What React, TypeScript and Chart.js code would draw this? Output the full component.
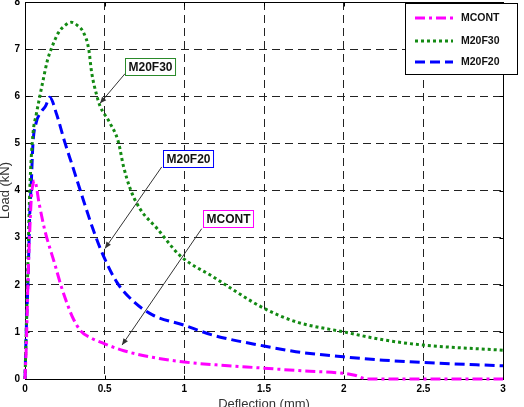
import React, { useEffect, useRef } from 'react';
import { Chart, registerables } from 'chart.js';

Chart.register(...registerables);

// ---- data ----
const seriesNames = ['MCONT', 'M20F30', 'M20F20'];
const seriesColors = ['#ff00ff', '#138a13', '#0000ff'];
const seriesDashes = [[10, 4, 3, 4], [3, 3], [10, 5]];

const mcontX = [0, 0.008, 0.019, 0.03, 0.04, 0.06, 0.09, 0.124, 0.186, 0.228, 0.27, 0.3, 0.35, 0.42, 0.49, 0.62, 0.8, 1.0, 1.2, 1.5, 1.75, 2.0, 2.07, 2.15, 2.5, 3.0];
const mcontY = [0, 0.68, 2.1, 3.16, 3.86, 4.21, 3.7, 3.16, 2.45, 1.96, 1.55, 1.3, 1.02, 0.86, 0.76, 0.6, 0.46, 0.36, 0.3, 0.23, 0.17, 0.12, 0.08, 0, 0, 0];

const m20f30X = [0, 0.015, 0.03, 0.05, 0.07, 0.092, 0.113, 0.14, 0.17, 0.21, 0.25, 0.29, 0.33, 0.366, 0.4, 0.418, 0.45, 0.47, 0.53, 0.586, 0.617, 0.66, 0.72, 0.83, 0.973, 1.18, 1.5, 1.705, 2.0, 2.25, 2.5, 3.0];
const m20f30Y = [0, 2.0, 4.0, 5.2, 5.6, 5.98, 6.33, 6.75, 7.05, 7.35, 7.5, 7.57, 7.5, 7.36, 7.0, 6.51, 6.02, 5.8, 5.45, 5.03, 4.53, 4.04, 3.62, 3.19, 2.62, 2.17, 1.5, 1.21, 1.0, 0.83, 0.72, 0.61];

const m20f20X = [0, 0.008, 0.019, 0.03, 0.04, 0.05, 0.071, 0.1, 0.13, 0.155, 0.2, 0.25, 0.3, 0.366, 0.43, 0.49, 0.575, 0.68, 0.8, 1.0, 1.18, 1.5, 1.7, 2.0, 2.25, 2.5, 3.0];
const m20f20Y = [0, 1.04, 2.1, 3.5, 4.2, 5.0, 5.45, 5.66, 5.8, 5.98, 5.6, 5.02, 4.5, 3.8, 3.15, 2.63, 2.06, 1.65, 1.36, 1.14, 0.93, 0.7, 0.58, 0.47, 0.4, 0.35, 0.28];

const xTickLabels = ['0', '0.5', '1', '1.5', '2', '2.5', '3'];
const yTickLabels = ['0', '1', '2', '3', '4', '5', '6', '7', '8'];
const xTitle = 'Deflection (mm)';
const yTitle = 'Load (kN)';

// annotations (data coordinates)
const annLabels = ['M20F30', 'M20F20', 'MCONT'];
const annColors = ['#2a8a2a', '#0000ff', '#ff00ff'];
const annBoxX = [0.784, 1.023, 1.271];
const annBoxY = [6.63, 4.68, 3.4];
const annTailX = [0.628, 0.858, 1.109];
const annTailY = [6.48, 4.5, 3.19];
const annTipX = [0.471, 0.502, 0.609];
const annTipY = [5.85, 2.77, 0.72];

const FONT = '"Liberation Sans", Arial, sans-serif';

const toPts = (xs: number[], ys: number[]) => xs.map((x, i) => ({ x, y: ys[i] }));

const plotPlugin = {
  id: 'matlabStyle',
  beforeDatasetsDraw(chart: any) {
    const { ctx, chartArea: a, scales } = chart;
    ctx.save();
    ctx.strokeStyle = '#000';
    ctx.lineWidth = 1;
    ctx.setLineDash([]);
    const L = Math.round(a.left) + 0.5, R = Math.round(a.right) + 0.5;
    const T = Math.round(a.top) + 0.5, B = Math.round(a.bottom) + 0.5;
    ctx.strokeRect(L, T, R - L, B - T);
    ctx.beginPath();
    scales.x.ticks.forEach((t: any) => {
      const px = Math.round(scales.x.getPixelForValue(t.value)) + 0.5;
      ctx.moveTo(px, B); ctx.lineTo(px, B - 4);
      ctx.moveTo(px, T); ctx.lineTo(px, T + 4);
    });
    scales.y.ticks.forEach((t: any) => {
      const py = Math.round(scales.y.getPixelForValue(t.value)) + 0.5;
      ctx.moveTo(L, py); ctx.lineTo(L + 4, py);
      ctx.moveTo(R, py); ctx.lineTo(R - 4, py);
    });
    ctx.stroke();
    ctx.restore();
  },
  afterDatasetsDraw(chart: any) {
    const { ctx, scales } = chart;
    ctx.save();
    ctx.font = `bold 12px ${FONT}`;
    annLabels.forEach((lab, i) => {
      const tx = scales.x.getPixelForValue(annTailX[i]);
      const ty = scales.y.getPixelForValue(annTailY[i]);
      const hx = scales.x.getPixelForValue(annTipX[i]);
      const hy = scales.y.getPixelForValue(annTipY[i]);
      ctx.strokeStyle = '#333';
      ctx.lineWidth = 1;
      ctx.setLineDash([]);
      ctx.beginPath();
      ctx.moveTo(tx, ty);
      ctx.lineTo(hx, hy);
      ctx.stroke();
      const ang = Math.atan2(hy - ty, hx - tx);
      const len = 7, spread = 0.4;
      ctx.beginPath();
      ctx.moveTo(hx, hy);
      ctx.lineTo(hx - len * Math.cos(ang - spread), hy - len * Math.sin(ang - spread));
      ctx.lineTo(hx - len * Math.cos(ang + spread), hy - len * Math.sin(ang + spread));
      ctx.closePath();
      ctx.fillStyle = '#333';
      ctx.fill();
      const cx = scales.x.getPixelForValue(annBoxX[i]);
      const cy = scales.y.getPixelForValue(annBoxY[i]);
      const w = ctx.measureText(lab).width + 6;
      const h = 17;
      const bx = Math.round(cx - w / 2) + 0.5, by = Math.round(cy - h / 2) + 0.5;
      ctx.fillStyle = '#fff';
      ctx.fillRect(bx, by, w, h);
      ctx.strokeStyle = annColors[i];
      ctx.strokeRect(bx, by, w, h);
      ctx.fillStyle = '#111';
      ctx.textAlign = 'center';
      ctx.textBaseline = 'middle';
      ctx.fillText(lab, bx + w / 2, by + h / 2 + 0.5);
    });
    ctx.restore();
  },
  afterDraw(chart: any) {
    const { ctx, chartArea: a } = chart;
    ctx.save();
    ctx.fillStyle = '#333';
    ctx.font = `13px ${FONT}`;
    ctx.textAlign = 'center';
    ctx.textBaseline = 'middle';
    ctx.fillText(xTitle, (a.left + a.right) / 2, a.bottom + 25);
    ctx.translate(5, (a.top + a.bottom) / 2);
    ctx.rotate(-Math.PI / 2);
    ctx.fillText(yTitle, 0, 0);
    ctx.restore();

    ctx.save();
    const lx = 405.5, ly = 3.5, lw = 112, lh = 71;
    ctx.fillStyle = '#fff';
    ctx.fillRect(lx, ly, lw, lh);
    ctx.strokeStyle = '#000';
    ctx.lineWidth = 1;
    ctx.strokeRect(lx, ly, lw, lh);
    const rows = [18, 41, 62];
    ctx.font = `bold 10.5px ${FONT}`;
    ctx.textBaseline = 'middle';
    ctx.textAlign = 'left';
    seriesNames.forEach((nm, i) => {
      ctx.strokeStyle = seriesColors[i];
      ctx.lineWidth = 3;
      ctx.setLineDash(seriesDashes[i]);
      ctx.beginPath();
      ctx.moveTo(415, rows[i]);
      ctx.lineTo(453, rows[i]);
      ctx.stroke();
      ctx.fillStyle = '#111';
      ctx.fillText(nm, 461, rows[i] + 0.5);
    });
    ctx.restore();
  },
};

export default function App() {
  const ref = useRef<HTMLCanvasElement | null>(null);
  useEffect(() => {
    if (!ref.current) return;
    const seriesX = [mcontX, m20f30X, m20f20X];
    const seriesY = [mcontY, m20f30Y, m20f20Y];
    const chart = new Chart(ref.current, {
      type: 'line',
      data: {
        datasets: seriesNames.map((nm, i) => ({
          label: nm,
          data: toPts(seriesX[i], seriesY[i]),
          borderColor: seriesColors[i],
          backgroundColor: seriesColors[i],
          borderWidth: 3,
          borderDash: seriesDashes[i],
          pointRadius: 0,
          fill: false,
          cubicInterpolationMode: 'monotone',
          clip: 4,
        })) as any,
      },
      options: {
        animation: false,
        responsive: false,
        maintainAspectRatio: false,
        events: [],
        layout: { padding: { left: 0, top: 2, right: 21, bottom: 0 } },
        plugins: { legend: { display: false }, tooltip: { enabled: false } },
        scales: {
          x: {
            type: 'linear',
            min: 0,
            max: 3,
            ticks: {
              stepSize: 0.5,
              color: '#000',
              font: { family: FONT, size: 10, weight: 'bold' },
              padding: 4,
              maxRotation: 0,
              autoSkip: false,
              callback: (_v: any, i: number) => xTickLabels[i],
            },
            grid: { color: '#222', lineWidth: 1, drawTicks: false },
            border: { display: false, dash: [8, 5] },
            afterFit: (s: any) => { s.height = 28; s.paddingLeft = 0; s.paddingRight = 0; },
          },
          y: {
            type: 'linear',
            min: 0,
            max: 8,
            ticks: {
              stepSize: 1,
              color: '#000',
              font: { family: FONT, size: 10, weight: 'bold' },
              padding: 5,
              autoSkip: false,
              callback: (_v: any, i: number) => yTickLabels[i],
            },
            grid: { color: '#222', lineWidth: 1, drawTicks: false },
            border: { display: false, dash: [8, 5] },
            afterFit: (s: any) => { s.width = 25; s.paddingTop = 0; s.paddingBottom = 0; },
          },
        },
      } as any,
      plugins: [plotPlugin],
    });
    return () => chart.destroy();
  }, []);
  return (
    <div style={{ position: 'fixed', left: 0, top: 0, width: 524, height: 407, overflow: 'hidden', background: '#fff' }}>
      <canvas ref={ref} width={524} height={407} style={{ display: 'block' }} />
    </div>
  );
}
